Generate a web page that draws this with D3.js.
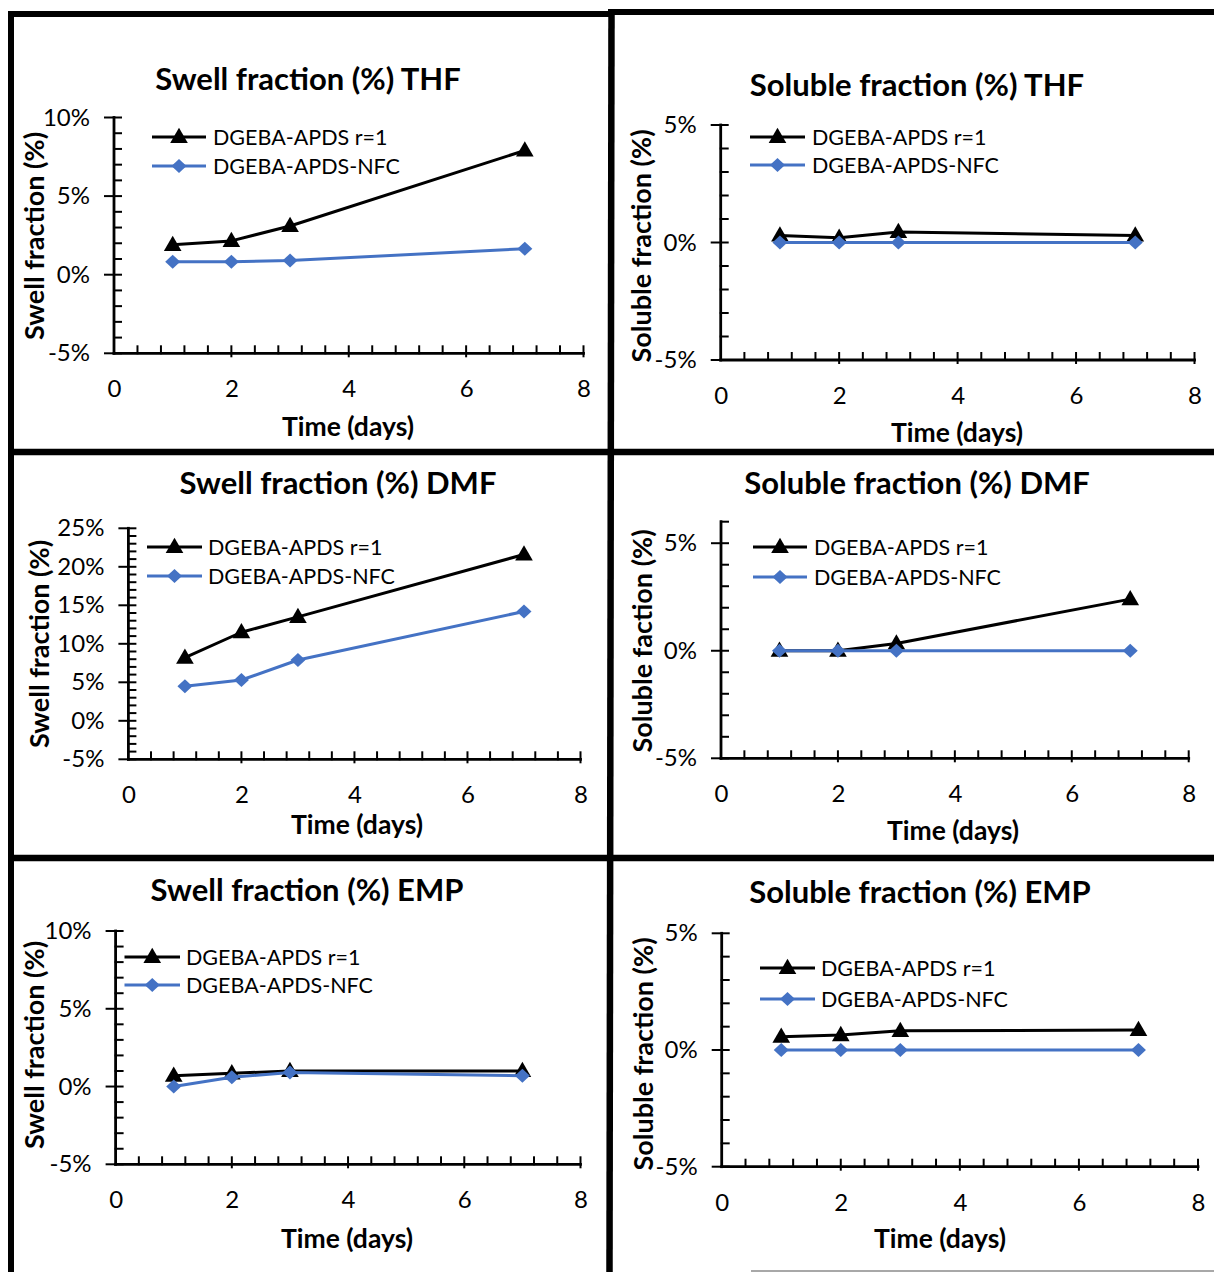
<!DOCTYPE html>
<html>
<head>
<meta charset="utf-8">
<script src="https://cdn.jsdelivr.net/npm/d3@7"></script>
<style>
  html, body { margin: 0; padding: 0; background: #fff; }
  svg { display: block; }
  text { font-family: "Lato", "Liberation Sans", sans-serif; fill: #000; }
</style>
</head>
<body>
<svg id="chart" width="1214" height="1272"></svg>
<script>
// ---------------- DATA ----------------
const days = [1, 2, 3, 7];
const seriesNames = ["DGEBA-APDS r=1", "DGEBA-APDS-NFC"];
const xTickValues = [0, 2, 4, 6, 8];

const swellTHF_r1  = [1.9, 2.15, 3.1, 7.9];
const swellTHF_nfc = [0.82, 0.82, 0.9, 1.65];

const solTHF_r1  = [0.3, 0.2, 0.45, 0.3];
const solTHF_nfc = [0, 0, 0, 0];

const swellDMF_r1  = [8.2, 11.5, 13.5, 21.6];
const swellDMF_nfc = [4.5, 5.3, 7.9, 14.2];

const solDMF_r1  = [0, 0, 0.34, 2.4];
const solDMF_nfc = [0, 0, 0, 0];

const swellEMP_r1  = [0.7, 0.85, 1.0, 1.0];
const swellEMP_nfc = [0.0, 0.6, 0.9, 0.7];

const solEMP_r1  = [0.57, 0.64, 0.82, 0.86];
const solEMP_nfc = [0, 0, 0, 0];

const titles = [
  "Swell fraction (%) THF", "Soluble fraction (%) THF",
  "Swell fraction (%) DMF", "Soluble fraction (%) DMF",
  "Swell fraction (%) EMP", "Soluble fraction (%) EMP"
];
const yTitles = [
  "Swell fraction (%)", "Soluble fraction (%)",
  "Swell fraction (%)", "Soluble faction (%)",
  "Swell fraction (%)", "Soluble fraction (%)"
];
const xTitle = "Time (days)";
const yDomains = [[-5, 10], [-5, 5], [-5, 25], [-5, 6], [-5, 10], [-5, 5]];
const yMajorTicks = [[-5, 0, 5, 10], [-5, 0, 5], [-5, 0, 5, 10, 15, 20, 25], [-5, 0, 5], [-5, 0, 5, 10], [-5, 0, 5]];
const panelData = [
  [swellTHF_r1, swellTHF_nfc], [solTHF_r1, solTHF_nfc],
  [swellDMF_r1, swellDMF_nfc], [solDMF_r1, solDMF_nfc],
  [swellEMP_r1, swellEMP_nfc], [solEMP_r1, solEMP_nfc]
];

// ---------------- LAYOUT ----------------
const layout = [
  { x0: 114, x1: 583.5, yT: 117.5, yB: 353.3, tx: 308, ty: 78, xtx: 348, xty: 426, ytx: 33, yty: 236, lx0: 152, lx1: 206, ltx: 213, ly: [137, 166] },
  { x0: 720.7, x1: 1194.5, yT: 125, yB: 360, tx: 917, ty: 84, xtx: 957, xty: 432, ytx: 640, yty: 246, lx0: 750, lx1: 805, ltx: 812, ly: [137, 165] },
  { x0: 128.4, x1: 580.5, yT: 528.3, yB: 759.3, tx: 338, ty: 482, xtx: 357, xty: 824, ytx: 38, yty: 644, lx0: 147, lx1: 202, ltx: 208, ly: [547, 576] },
  { x0: 721, x1: 1188.7, yT: 521.7, yB: 758.3, tx: 917, ty: 482, xtx: 953, xty: 830, ytx: 641, yty: 641, lx0: 753, lx1: 807, ltx: 814, ly: [547, 577] },
  { x0: 115.6, x1: 580.5, yT: 931, yB: 1164.3, tx: 307, ty: 889, xtx: 347, xty: 1238, ytx: 33, yty: 1045, lx0: 124.5, lx1: 180, ltx: 186, ly: [957, 985] },
  { x0: 721.7, x1: 1198, yT: 933.3, yB: 1166.7, tx: 920, ty: 891, xtx: 940, xty: 1238, ytx: 642, yty: 1054, lx0: 760, lx1: 815, ltx: 821, ly: [968, 999] }
];

const colors = ["#000000", "#4472C4"];
const svg = d3.select("#chart");

// ---------------- FRAME LINES ----------------
const frame = svg.append("g").attr("stroke", "#000").attr("stroke-linecap", "butt");
frame.append("line").attr("x1", 8).attr("x2", 612).attr("y1", 14).attr("y2", 14).attr("stroke-width", 6);
frame.append("line").attr("x1", 608).attr("x2", 1214).attr("y1", 12).attr("y2", 12).attr("stroke-width", 6);
frame.append("line").attr("x1", 11).attr("x2", 11).attr("y1", 11).attr("y2", 1272).attr("stroke-width", 6);
frame.append("line").attr("x1", 611.5).attr("x2", 609.5).attr("y1", 9).attr("y2", 1272).attr("stroke-width", 6.5);
frame.append("line").attr("x1", 8).attr("x2", 1214).attr("y1", 452).attr("y2", 452).attr("stroke-width", 6.5);
frame.append("line").attr("x1", 8).attr("x2", 1214).attr("y1", 858).attr("y2", 858).attr("stroke-width", 6.5);
frame.append("line").attr("x1", 751).attr("x2", 1214).attr("y1", 1271).attr("y2", 1271).attr("stroke", "#a8a8a8").attr("stroke-width", 2);

// ---------------- MARKERS ----------------
const triPath = d3.symbol().type(d3.symbolTriangle).size(135)();
function diamondPath(w, h) { return `M0,${-h/2}L${w/2},0L0,${h/2}L${-w/2},0Z`; }

function drawMarker(g, i, x, y) {
  if (i === 0) {
    g.append("path").attr("d", triPath).attr("transform", `translate(${x},${y + 1})`).attr("fill", colors[0]);
  } else {
    g.append("path").attr("d", diamondPath(15, 14)).attr("transform", `translate(${x},${y})`).attr("fill", colors[1]);
  }
}

// ---------------- PANELS ----------------
layout.forEach((L, p) => {
  const g = svg.append("g");
  const x = d3.scaleLinear().domain([0, 8]).range([L.x0, L.x1]);
  const y = d3.scaleLinear().domain(yDomains[p]).range([L.yB, L.yT]);
  const dom = yDomains[p];

  // Title
  g.append("text").attr("x", L.tx).attr("y", L.ty).attr("text-anchor", "middle")
    .attr("dominant-baseline", "central").attr("font-size", 31).attr("font-weight", 700).text(titles[p]);
  // X title
  g.append("text").attr("x", L.xtx).attr("y", L.xty).attr("text-anchor", "middle")
    .attr("dominant-baseline", "central").attr("font-size", 26.5).attr("font-weight", 700).text(xTitle);
  // Y title
  g.append("text").attr("transform", `translate(${L.ytx},${L.yty}) rotate(-90)`).attr("text-anchor", "middle")
    .attr("dominant-baseline", "central").attr("font-size", 27).attr("font-weight", 700).text(yTitles[p]);

  // Y axis (labels via d3 axis)
  const yAxis = d3.axisLeft(y).tickValues(yMajorTicks[p]).tickSize(0).tickPadding(24)
    .tickFormat(d => d + "%");
  const yg = g.append("g").attr("transform", `translate(${L.x0},0)`).call(yAxis);
  yg.select(".domain").remove();
  yg.selectAll("text").attr("font-size", 24).attr("font-family", "Lato").attr("fill", "#000");

  // X axis labels
  const xAxis = d3.axisBottom(x).tickValues(xTickValues).tickSize(0).tickPadding(27);
  const xg = g.append("g").attr("transform", `translate(0,${L.yB})`).call(xAxis);
  xg.select(".domain").remove();
  xg.selectAll("text").attr("font-size", 24).attr("font-family", "Lato").attr("fill", "#000");

  // Axis lines
  const ax = g.append("g").attr("stroke", "#000").attr("stroke-linecap", "square");
  ax.append("line").attr("x1", L.x0).attr("x2", L.x0).attr("y1", y(dom[1])).attr("y2", y(dom[0])).attr("stroke-width", 2.8);
  ax.append("line").attr("x1", L.x0).attr("x2", x(8)).attr("y1", L.yB).attr("y2", L.yB).attr("stroke-width", 2.8);

  // Y ticks: minor every 1 (inside), major crossing
  const yMinor = d3.range(dom[0], dom[1] + 0.001, 1);
  yMinor.forEach(v => {
    const isMajor = yMajorTicks[p].includes(v);
    ax.append("line").attr("x1", L.x0 - (isMajor ? 9 : 0)).attr("x2", L.x0 + 7)
      .attr("y1", y(v)).attr("y2", y(v)).attr("stroke-width", 2);
  });
  // X ticks: minor every 0.4 (inside, upward), major crossing
  const xMinor = d3.range(0, 8.001, 0.4).map(v => +v.toFixed(1));
  xMinor.forEach(v => {
    if (v === 0) return;
    const isMajor = xTickValues.includes(v);
    ax.append("line").attr("x1", x(v)).attr("x2", x(v))
      .attr("y1", L.yB - 7).attr("y2", L.yB + (isMajor ? 3 : 0)).attr("stroke-width", 2);
  });

  // Series lines & markers
  panelData[p].forEach((vals, i) => {
    const line = d3.line().x((d, k) => x(days[k])).y(d => y(d));
    g.append("path").datum(vals).attr("d", line).attr("fill", "none")
      .attr("stroke", colors[i]).attr("stroke-width", 3).attr("stroke-linejoin", "round");
    const mg = g.append("g");
    vals.forEach((v, k) => drawMarker(mg, i, x(days[k]), y(v)));
  });

  // Legend
  seriesNames.forEach((name, i) => {
    const ly = L.ly[i];
    g.append("line").attr("x1", L.lx0).attr("x2", L.lx1).attr("y1", ly).attr("y2", ly)
      .attr("stroke", colors[i]).attr("stroke-width", 3);
    drawMarker(g, i, (L.lx0 + L.lx1) / 2, ly);
    g.append("text").attr("x", L.ltx).attr("y", ly).attr("dominant-baseline", "central")
      .attr("font-size", 21.5).text(name);
  });
});
</script>
</body>
</html>
